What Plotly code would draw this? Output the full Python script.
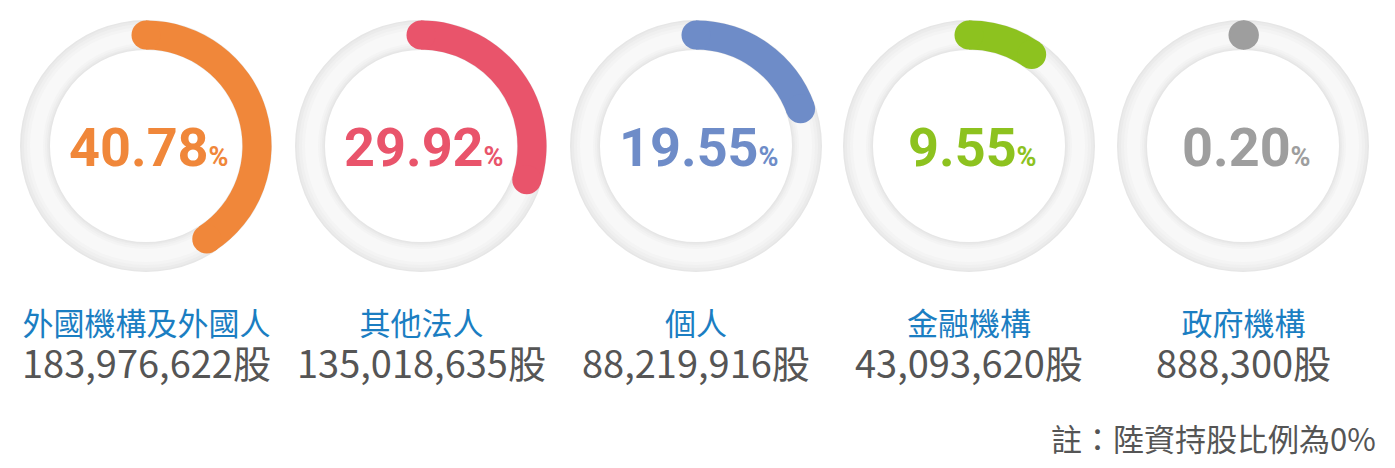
import plotly.graph_objects as go

# shareholder structure data
categories = ["外國機構及外國人", "其他法人", "個人", "金融機構", "政府機構"]
percents = [40.78, 29.92, 19.55, 9.55, 0.20]
shares = [183976622, 135018635, 88219916, 43093620, 888300]
colors = ["#F0873A", "#E9546B", "#6E8CC8", "#8DC21F", "#9E9E9E"]
note = "註：陸資持股比例為0%"

W, H = 1395, 468
centers_x = [146, 421, 696, 969, 1243]
center_y = 146
R = 130  # px half size of each polar domain

# grey tube: (base, depth, colour) layers from outside edge to highlight
tube = [(96, 30, "#e6e6e6"), (97.5, 27, "#ebebeb"), (99, 23, "#f0f0f0"),
        (101, 18, "#f4f4f4"), (103, 13, "#f8f8f8")]

fig = go.Figure()

for i, (pct, col) in enumerate(zip(percents, colors)):
    pid = "polar" if i == 0 else f"polar{i+1}"
    for base, depth, grey in tube:
        fig.add_trace(go.Barpolar(
            r=[depth], base=[base], theta=[180], width=[360],
            marker=dict(color=grey, line=dict(width=0)),
            subplot=pid, hoverinfo="skip", showlegend=False))
    # coloured arc
    sweep = pct * 3.6
    fig.add_trace(go.Barpolar(
        r=[29], base=[96.5], theta=[sweep / 2], width=[sweep],
        marker=dict(color=col, line=dict(width=0)),
        subplot=pid, hoverinfo="skip", showlegend=False))
    # rounded caps
    fig.add_trace(go.Scatterpolar(
        r=[111, 111], theta=[0, sweep], mode="markers",
        marker=dict(color=col, size=29, line=dict(width=0)),
        subplot=pid, hoverinfo="skip", showlegend=False))

    cx = centers_x[i]
    fig.update_layout(**{pid: dict(
        domain=dict(x=[(cx - R) / W, (cx + R) / W],
                    y=[(H - center_y - R) / H, (H - center_y + R) / H]),
        bgcolor="rgba(0,0,0,0)",
        radialaxis=dict(visible=False, range=[0, R]),
        angularaxis=dict(visible=False, rotation=90, direction="clockwise"),
        hole=0,
    )})

    # centre percentage
    fig.add_annotation(
        x=cx / W, y=1 - center_y / H, xref="paper", yref="paper",
        text=f"<b>{pct:.2f}</b><span style='font-size:27px'><b>%</b></span>",
        showarrow=False, xanchor="center", yanchor="middle", xshift=3, yshift=-1,
        font=dict(family="Roboto", size=54, color=col))
    # category label + share count
    fig.add_annotation(
        x=cx / W, y=1 - 344 / H, xref="paper", yref="paper",
        text=(f"<span style='font-size:31px;color:#1B7EC2'>{categories[i]}</span><br>"
              f"<span style='font-size:38px'>{shares[i]:,}股</span>"),
        showarrow=False, xanchor="center", yanchor="middle", align="center",
        font=dict(family="Noto Sans CJK TC", size=33, color="#555555"))

fig.add_annotation(
    x=1378 / W, y=1 - 437 / H, xref="paper", yref="paper",
    text=note, showarrow=False, xanchor="right", yanchor="middle",
    font=dict(family="Noto Sans CJK TC", size=31, color="#555555"))

fig.update_layout(
    width=W, height=H,
    margin=dict(l=0, r=0, t=0, b=0),
    paper_bgcolor="white", plot_bgcolor="white",
    barmode="overlay",
    showlegend=False,
)

fig.write_html("out.html", config={"displayModeBar": False},
               post_script="document.body.style.margin='0';")
